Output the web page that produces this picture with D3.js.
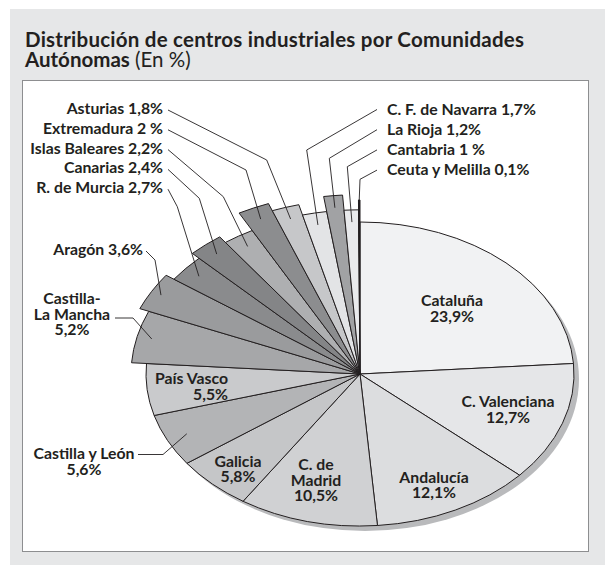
<!DOCTYPE html>
<html>
<head>
<meta charset="utf-8">
<script src="https://cdn.jsdelivr.net/npm/d3@7"></script>
<style>
  html, body { margin: 0; padding: 0; background: #fff; }
  svg { display: block; font-family: Lato, "Open Sans", sans-serif; }
</style>
</head>
<body>
<svg id="chart" width="605" height="565"></svg>
<script>
// ── Data ─────────────────────────────────────────────────────────────────────
const regions = ["Cataluña", "C. Valenciana", "Andalucía", "C. de Madrid", "Galicia",
    "Castilla y León", "País Vasco", "Castilla-La Mancha", "Aragón", "R. de Murcia",
    "Canarias", "Islas Baleares", "Extremadura", "Asturias", "C. F. de Navarra",
    "La Rioja", "Cantabria", "Ceuta y Melilla"];
const shares = [23.9, 12.7, 12.1, 10.5, 5.8, 5.6, 5.5, 5.2, 3.6, 2.7, 2.4, 2.2, 2, 1.8, 1.7, 1.2, 1, 0.1];
const shareLabels = ["23,9%", "12,7%", "12,1%", "10,5%", "5,8%", "5,6%", "5,5%", "5,2%", "3,6%",
    "2,7%", "2,4%", "2,2%", "2 %", "1,8%", "1,7%", "1,2%", "1 %", "0,1%"];

// ── Style ────────────────────────────────────────────────────────────────────
const fills = ["#f1f2f3", "#e5e6e8", "#dcdddf", "#d0d1d3", "#c5c6c8", "#b3b4b6", "#c9cacc",
    "#a6a7a9", "#9a9b9d", "#8a8b8d", "#848587", "#aeafb1", "#8c8d8f", "#c6c7c9",
    "#e3e4e6", "#a1a2a4", "#e9eaec", "#231f20"];
// outer radius factor of each slice (the small ones stick out)
const pull = [1, 1, 1, 1, 1, 1, 1, 1.07, 1.115, 1.07, 1.115, 1.07, 1.2, 1.15, 1.08, 1.18, 1.08, 1.145];

const W = 605, H = 565;
const cx = 360, cy = 374, R = 214, squash = 152 / 214;
const ink = "#231f20";
const fs = 15.8, lh = 15.5;

const svg = d3.select("#chart");

// ── Frame ────────────────────────────────────────────────────────────────────
svg.append("rect").attr("x", 10).attr("y", 9).attr("width", W - 10).attr("height", H - 9).attr("fill", "#e6e7e8");
svg.append("rect").attr("x", 22.5).attr("y", 80.5).attr("width", 566).attr("height", 471)
    .attr("fill", "#fff").attr("stroke", "#8d8e90").attr("stroke-width", 1);

const title = svg.append("g").attr("fill", ink).attr("font-size", 20.5);
title.append("text").attr("x", 25).attr("y", 47).attr("font-weight", 700)
    .attr("textLength", 499).attr("lengthAdjust", "spacing")
    .text("Distribución de centros industriales por Comunidades");
const t2 = title.append("text").attr("x", 25).attr("y", 67);
t2.append("tspan").attr("font-weight", 700).text("Autónomas");
t2.append("tspan").attr("font-weight", 400).text(" (En %)");

// ── Pie ──────────────────────────────────────────────────────────────────────
const pie = d3.pie().sort(null).startAngle(0).endAngle(2 * Math.PI);
const arcs = pie(shares);
const arc = d3.arc().innerRadius(0).outerRadius((d, i) => R * pull[i]);

const pieG = svg.append("g").attr("transform", `translate(${cx},${cy}) scale(1,${squash})`);

// shadow
pieG.append("ellipse").attr("cx", 5).attr("cy", 7).attr("rx", R).attr("ry", R)
    .attr("fill", "#b9babc");

pieG.selectAll("path.slice").data(arcs).join("path")
    .attr("class", "slice")
    .attr("d", (d, i) => arc(d, i))
    .attr("fill", (d, i) => fills[i])
    .attr("stroke", ink).attr("stroke-width", 1)
    .attr("stroke-linejoin", "miter")
    .attr("vector-effect", "non-scaling-stroke");

// point in screen space for angle a and radius factor f
function at(a, f) {
    return [cx + Math.sin(a) * R * f, cy - Math.cos(a) * R * squash * f];
}
const mid = d => (d.startAngle + d.endAngle) / 2;

// ── Labels ───────────────────────────────────────────────────────────────────
const lab = svg.append("g").attr("fill", ink).attr("font-size", fs).attr("font-weight", 700);

function block(lines, x, y, anchor) {
    lines.forEach((s, k) => lab.append("text").attr("x", x).attr("y", y + k * lh)
        .attr("text-anchor", anchor).text(s));
}

block(["Cataluña", shareLabels[0]], 452, 306, "middle");
block(["C. Valenciana", shareLabels[1]], 508, 407, "middle");
block(["Andalucía", shareLabels[2]], 434, 482.5, "middle");
block(["C. de", "Madrid", shareLabels[3]], 316, 470, "middle");
block(["Galicia", shareLabels[4]], 238, 466.5, "middle");
block(["País Vasco", shareLabels[6]], 228, 384, "end");

// ── Outside labels with leaders ──────────────────────────────────────────────
const leaders = svg.append("g").attr("fill", "none").attr("stroke", ink).attr("stroke-width", 0.9);

function leader(i, pts, depth) {
    const end = at(mid(arcs[i]), pull[i] - depth);
    leaders.append("path").attr("d", d3.line()([...pts, end]));
}

// left column, right aligned
const leftCol = [13, 12, 11, 10, 9];
const leftElbow = [[266.7, 160], [246, 170], [223.3, 196.7], [199.3, 198.3], [177.3, 206.7]];
leftCol.forEach((i, k) => {
    const y = 114 + k * 19.8;
    block([`${regions[i]} ${shareLabels[i]}`], 163, y, "end");
    leader(i, [[168, y - 4], leftElbow[k]], 0.08);
});

// right column, left aligned
const rightCol = [14, 15, 16, 17];
const rightElbow = [[306.7, 150], [329.3, 158.3], [347.3, 166.7], [360, 179.3]];
rightCol.forEach((i, k) => {
    const y = 114.5 + k * 20.2;
    block([`${regions[i]} ${shareLabels[i]}`], 387, y, "start");
    leader(i, [[377, y - 5], rightElbow[k]], i === 17 ? 0 : 0.08);
});

// Aragón
block([`${regions[8]} ${shareLabels[8]}`], 143, 255, "end");
leader(8, [[146, 251], [155, 260]], 0.05);

// Castilla-La Mancha
block(["Castilla-", "La Mancha", shareLabels[7]], 72, 304, "middle");
leader(7, [[115, 318], [133, 318]], 0.07);

// Castilla y León
block(["Castilla y León", shareLabels[5]], 84, 459, "middle");
leader(5, [[138, 454.5], [163, 454.5]], 0.1);
</script>
</body>
</html>
